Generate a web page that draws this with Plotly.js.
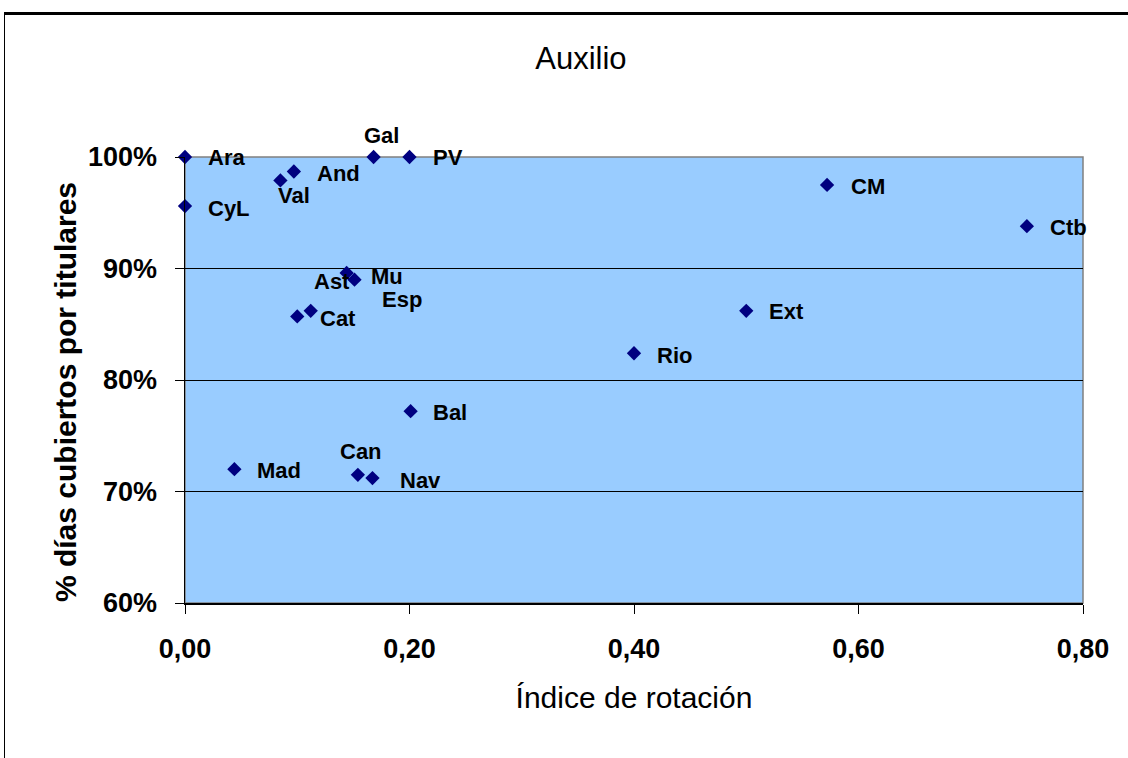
<!DOCTYPE html>
<html>
<head>
<meta charset="utf-8">
<script src="https://cdn.plot.ly/plotly-3.0.1.min.js"></script>
<style>
  html, body { margin: 0; padding: 0; background: #fff; }
  #chart { width: 1128px; height: 758px; }
  #frame { position: absolute; left: 4px; top: 12px; width: 1124px; height: 746px;
           border-top: 3px solid #000; border-left: 1px solid #000; box-sizing: border-box; pointer-events: none; }
</style>
</head>
<body>
<div id="chart"></div>
<div id="frame"></div>
<script>
// Data
const regions  = ['Ara', 'CyL', 'Val', 'And', 'Gal', 'PV', 'CM', 'Ctb', 'Ast', 'Mu', 'Cat', 'Esp', 'Ext', 'Rio', 'Bal', 'Mad', 'Can', 'Nav'];
const rotation = [0.000, 0.000, 0.085, 0.097, 0.168, 0.200, 0.572, 0.750, 0.144, 0.151, 0.100, 0.112, 0.500, 0.400, 0.201, 0.044, 0.154, 0.167];
const coverage = [1.000, 0.956, 0.979, 0.987, 1.000, 1.000, 0.975, 0.938, 0.896, 0.890, 0.857, 0.862, 0.862, 0.824, 0.772, 0.720, 0.715, 0.712];
const xTicks = [0, 0.2, 0.4, 0.6, 0.8];
const yTicks = [0.6, 0.7, 0.8, 0.9, 1.0];
const yTitle = '% días cubiertos por titulares';
const xTitle = 'Índice de rotación';

// Label placement (style only): pixel offsets of each label from its marker
const labelDx = [41, 44, 14, 45, 8, 38, 41, 42, -15, 32, 41, 91, 40, 40, 39, 45, 3, 48];
const labelDy = [0, -2, -15, -2, 22, 0, -2, -1, -9, 3, -2, 11, -1, -2, -1, -1, 23, -2];

const FONT = 'Liberation Sans, Arial, sans-serif';

const trace = {
  type: 'scatter', mode: 'markers',
  x: rotation, y: coverage, text: regions,
  marker: { symbol: 'diamond', size: 11, color: '#000080' },
  cliponaxis: false, hoverinfo: 'text', showlegend: false
};

const annotations = regions.map((r, i) => ({
  x: rotation[i], y: coverage[i], xref: 'x', yref: 'y', text: r, showarrow: false,
  xshift: labelDx[i], yshift: labelDy[i],
  font: { family: FONT, size: 22, color: '#000', weight: 'bold' }
}));
annotations.push({
  text: yTitle, xref: 'paper', yref: 'paper', x: -0.1336, y: 0.473,
  xanchor: 'center', yanchor: 'middle', textangle: -90, showarrow: false,
  font: { family: FONT, size: 30, color: '#000', weight: 'bold' }
});

const layout = {
  width: 1128, height: 758,
  margin: { l: 185, r: 45, t: 157, b: 155 },
  paper_bgcolor: '#fff', plot_bgcolor: '#99CCFF',
  separators: ', ',
  title: { text: 'Auxilio', x: 0.515, xanchor: 'center', y: 0.923, yanchor: 'middle',
           font: { family: FONT, size: 31, color: '#000' } },
  xaxis: {
    range: [0, 0.8], tickvals: xTicks, tickformat: '.2f',
    showgrid: false, zeroline: false, showline: true, linecolor: '#000', linewidth: 1.5,
    ticks: 'outside', ticklen: 9, tickcolor: '#000', ticklabelstandoff: 12,
    tickfont: { family: FONT, size: 27, color: '#000', weight: 'bold' },
    title: { text: xTitle, standoff: 24,
             font: { family: FONT, size: 30, color: '#000' } }
  },
  yaxis: {
    range: [0.6, 1.0], tickvals: yTicks, tickformat: '.0%',
    showgrid: true, gridcolor: '#000', gridwidth: 1, zeroline: false,
    showline: true, linecolor: '#000', linewidth: 1.5,
    ticks: 'outside', ticklen: 9, tickcolor: '#000', ticklabelstandoff: 12,
    tickfont: { family: FONT, size: 27, color: '#000', weight: 'bold' }
  },
  shapes: [{ type: 'rect', xref: 'paper', yref: 'paper', x0: 0, x1: 1, y0: 0, y1: 1,
             line: { color: '#808080', width: 1.5 }, layer: 'below' }],
  annotations: annotations
};

Plotly.newPlot('chart', [trace], layout, { displayModeBar: false, staticPlot: true });
</script>
</body>
</html>
